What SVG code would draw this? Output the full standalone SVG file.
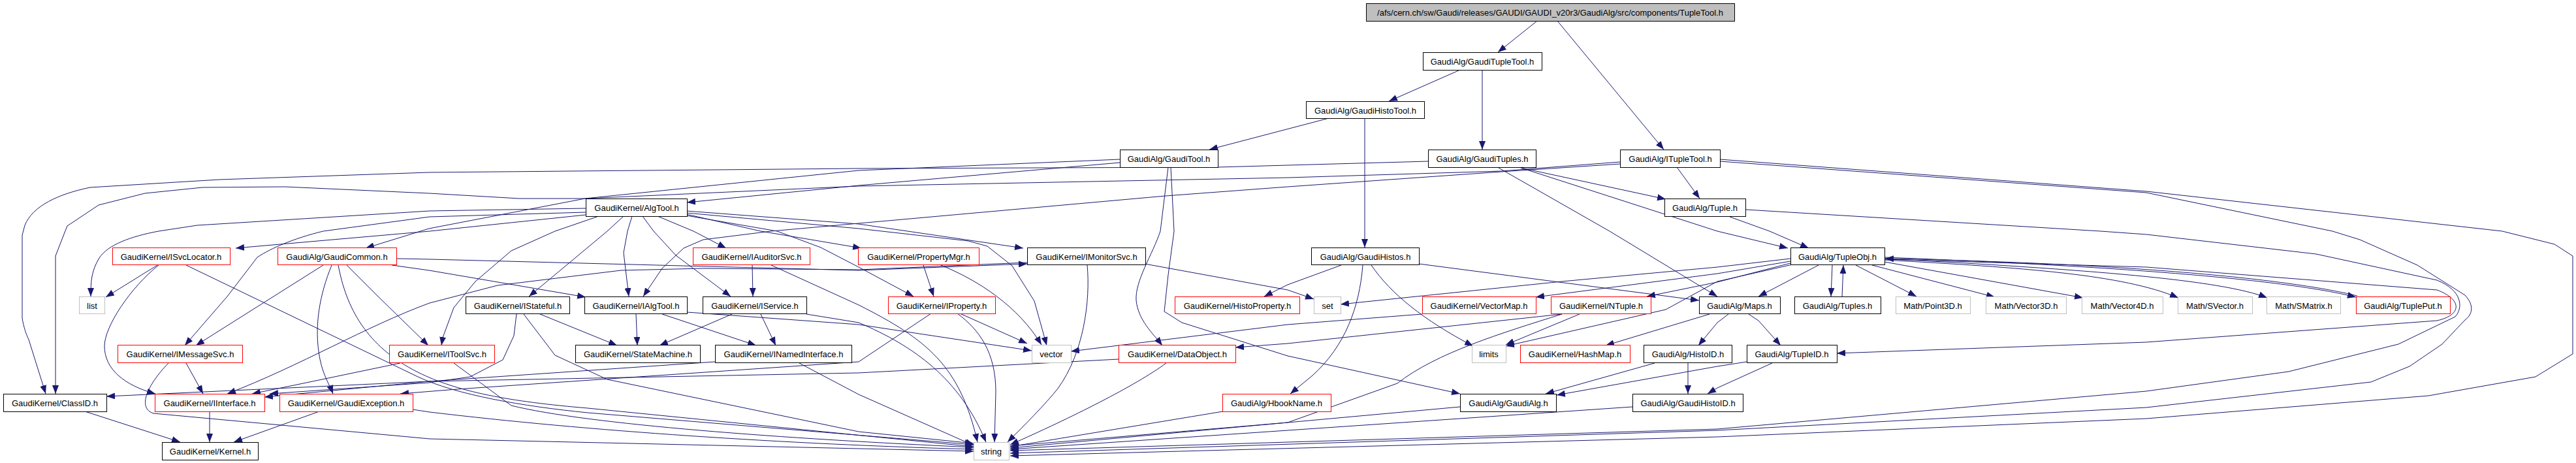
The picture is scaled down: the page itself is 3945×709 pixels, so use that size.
<svg xmlns="http://www.w3.org/2000/svg" width="3945" height="709" viewBox="0 0 3945 709">
<style>
.n rect{fill:#fff;stroke:#000;stroke-width:1}
.r rect{stroke:#f00}
.g rect{stroke:#bfbfbf}
.root rect{fill:#bfbfbf}
text{font-family:"Liberation Sans",Arial,sans-serif;font-size:13px;text-anchor:middle;fill:#000}
.e path{fill:none;stroke:#191970;stroke-width:1;marker-end:url(#a)}
</style>
<defs>
<marker id="a" markerUnits="userSpaceOnUse" markerWidth="14" markerHeight="10" refX="13" refY="5" orient="auto"><path d="M0,0 L13,5 L0,10 z" fill="#191970"/></marker>
</defs>
<rect width="3945" height="709" fill="#fff"/>
<g id="connectors" class="e">
<path d="M2354,32 L2294,80"/>
<path d="M2385,32 L2548,229"/>
<path d="M2236,107 L2127,155"/>
<path d="M2270,107 L2270,229"/>
<path d="M2035,181 L1852,229"/>
<path d="M2090,181 L2090,379"/>
<path d="M1715,244 L1315,261 L896,304 L657,350 L560,380"/>
<path d="M1715,249 L1315,284 L1052,310"/>
<path d="M2187,247 L1865,256 L1315,258 L657,264 L336,275 L138,287 C90,297 50,315 38,345 L34,360 L34,487 C36,500 40,512 44,520 L70,603"/>
<path d="M2481,248 L2299,262 L1973,272 L1315,285 L896,304 L795,304 L657,296 L436,286 L310,287 L222,296 L151,314 L103,346 L99,356 L85,392 L85,603"/>
<path d="M2481,251 L2299,263 L1972,286 L1785,300 L1315,342 L1181,354 L1077,367 L1047,380 L1014,411 L985,454"/>
<path d="M2568,256 L2603,304"/>
<path d="M2329,257 L2551,305"/>
<path d="M2329,257 L2630,354 L2738,380"/>
<path d="M2295,257 L2465,354 L2630,454"/>
<path d="M2649,332 L2710,354 L2770,380"/>
<path d="M1789,256 L1777,354 C1765,390 1738,430 1740,460 C1743,490 1765,510 1780,529"/>
<path d="M1793,256 L1798,354 L1789,421 L1783,477 L1810,494 L1972,545 L2236,603"/>
<path d="M2054,406 L1972,436 L1936,454"/>
<path d="M2100,406 C2130,450 2180,490 2256,530"/>
<path d="M2087,406 C2082,470 2060,530 2010,575 L1976,603"/>
<path d="M2173,404 L2602,460"/>
<path d="M1753,404 L1972,444 L2012,458"/>
<path d="M2742,396 L2630,409 L2392,431 L2053,466"/>
<path d="M2742,400 L2630,419 L2352,455"/>
<path d="M2742,403 L2630,432 L2522,454"/>
<path d="M2745,405 L2630,431 L2551,474 L2306,530"/>
<path d="M2785,406 L2693,454"/>
<path d="M2806,406 L2804,454"/>
<path d="M2821,454 L2823,406"/>
<path d="M2842,406 L2935,454"/>
<path d="M2867,406 L3055,455"/>
<path d="M2886,401 L3190,456"/>
<path d="M2886,398 C3100,410 3250,420 3336,456"/>
<path d="M2886,396 C3200,413 3400,428 3472,456"/>
<path d="M2886,394 C3250,408 3500,428 3608,455"/>
<path d="M3610,453 C3500,426 3250,403 2887,396"/>
<path d="M2886,397 L3287,409 L3732,444 C3770,458 3772,482 3732,491 L3287,524 L2813,541"/>
<path d="M2674,321 L3217,354 L3287,359 L3547,389 L3732,429 C3772,445 3772,472 3760,485 L3673,527 L3505,569 L3287,599 L2630,657 L1547,690"/>
<path d="M2634,247 L3287,295 L3572,354 L3614,367 L3702,406 L3775,452 C3790,468 3786,482 3775,490 L3740,527 L3690,561 L3631,585 L3287,624 L2630,659 L1547,694"/>
<path d="M2634,244 L3287,293 L3832,354 L3912,374 L3940,392 L3940,542 L3883,577 L3719,606 L3287,641 L2630,669 L1547,698"/>
<path d="M2647,481 L2630,494 L2601,529"/>
<path d="M2678,481 L2693,491 L2727,529"/>
<path d="M2618,481 L2459,529"/>
<path d="M2585,556 L2585,603"/>
<path d="M2534,556 L2367,603"/>
<path d="M2675,554 L2630,561 L2384,605"/>
<path d="M2714,556 L2630,594 L2615,603"/>
<path d="M2392,481 L1972,526 L1892,532"/>
<path d="M2419,481 L2306,528"/>
<path d="M2392,481 C2300,510 2200,540 2140,587 L1972,647 L1547,683"/>
<path d="M2178,481 L1972,497 L1640,538"/>
<path d="M2236,623 L1972,647 L1547,686"/>
<path d="M2500,623 L1972,659 L1547,688"/>
<path d="M1713,550 L1315,571 L657,584 L163,607"/>
<path d="M1786,556 C1740,590 1640,640 1547,681"/>
<path d="M1873,630 L1547,684"/>
<path d="M1665,406 C1670,460 1660,540 1620,595 C1600,620 1570,650 1543,677"/>
<path d="M1573,402 L1315,413 L1077,411 L951,414 L762,437 L658,464 C560,500 460,560 348,603"/>
<path d="M607,396 L658,397 L1315,414 L1573,404"/>
<path d="M1414,406 L1430,454"/>
<path d="M1441,406 C1500,430 1560,470 1595,528"/>
<path d="M1181,406 L1315,467 C1420,520 1470,560 1497,677"/>
<path d="M1235,481 L1315,494 C1400,530 1470,580 1510,677"/>
<path d="M1466,480 C1500,505 1525,540 1525,600 L1523,677"/>
<path d="M1470,480 L1573,526"/>
<path d="M1426,480 L1315,554 L700,596 L613,603"/>
<path d="M1095,554 L657,584 L405,608"/>
<path d="M613,556 L450,590 L386,603"/>
<path d="M695,556 L783,621 C900,650 1200,672 1491,685"/>
<path d="M791,481 L787,514 L770,551 L720,577 L657,586 L413,603"/>
<path d="M802,481 L850,544 L930,581 L1315,661 L1491,679"/>
<path d="M827,481 L945,529"/>
<path d="M974,481 L976,529"/>
<path d="M1014,481 L1158,529"/>
<path d="M1121,481 L1010,529"/>
<path d="M1165,481 L1188,529"/>
<path d="M1224,556 L1315,604 L1491,682"/>
<path d="M1152,406 L1153,454"/>
<path d="M489,630 L358,677"/>
<path d="M632,627 L658,631 C900,660 1200,680 1491,688"/>
<path d="M241,406 L162,455"/>
<path d="M243,406 C200,440 160,500 160,530 C160,565 190,590 238,603"/>
<path d="M285,406 L640,577 C700,605 800,622 900,632 L1491,681"/>
<path d="M285,556 L311,603"/>
<path d="M258,556 C225,590 210,625 235,633 L658,672 L1491,691"/>
<path d="M130,630 L276,677"/>
<path d="M321,630 L321,677"/>
<path d="M495,406 L300,529"/>
<path d="M508,406 C490,450 480,500 490,550 C495,575 505,590 510,603"/>
<path d="M518,406 C530,470 560,530 640,570 C700,600 780,615 900,625 L1491,684"/>
<path d="M531,406 L579,454 L656,529"/>
<path d="M600,406 L657,414 L897,455"/>
<path d="M897,319 L658,323 L302,345 L243,354 C200,362 165,375 152,395 C140,415 139,430 139,454"/>
<path d="M897,325 L658,332 L495,354 C450,365 415,380 394,394 L348,454 L283,529"/>
<path d="M897,329 L658,354 L361,380"/>
<path d="M917,331 L850,354 L783,384 L728,431 L695,471 L678,517 L676,529"/>
<path d="M955,331 L930,354 L810,454"/>
<path d="M968,331 L961,354 L955,387 L963,454"/>
<path d="M984,331 L1001,354 L1035,391 L1119,454"/>
<path d="M1007,331 L1062,354 L1112,380"/>
<path d="M1051,328 L1165,354 L1319,380"/>
<path d="M1051,330 L1190,354 L1257,379 L1315,409 L1399,454"/>
<path d="M1051,323 L1315,343 L1567,380"/>
<path d="M1051,326 L1315,350 L1483,369 L1512,377 L1550,407 L1584,461 L1603,529"/>
<path d="M1052,478 L1315,497 L1580,537"/>
</g>
<g id="n0" class="n root"><rect x="2092.5" y="5.5" width="564" height="27"/><text x="2374" y="24">/afs/cern.ch/sw/Gaudi/releases/GAUDI/GAUDI_v20r3/GaudiAlg/src/components/TupleTool.h</text></g>
<g id="n1" class="n"><rect x="2179.5" y="80.5" width="182" height="27"/><text x="2270" y="99">GaudiAlg/GaudiTupleTool.h</text></g>
<g id="n2" class="n"><rect x="2000.5" y="155.5" width="181" height="26"/><text x="2091" y="174">GaudiAlg/GaudiHistoTool.h</text></g>
<g id="n3" class="n"><rect x="1715.5" y="229.5" width="150" height="27"/><text x="1790" y="248">GaudiAlg/GaudiTool.h</text></g>
<g id="n4" class="n"><rect x="2187.5" y="229.5" width="165" height="27"/><text x="2270" y="248">GaudiAlg/GaudiTuples.h</text></g>
<g id="n5" class="n"><rect x="2481.5" y="229.5" width="153" height="27"/><text x="2558" y="248">GaudiAlg/ITupleTool.h</text></g>
<g id="n6" class="n"><rect x="2549.5" y="304.5" width="124" height="27"/><text x="2611" y="323">GaudiAlg/Tuple.h</text></g>
<g id="n7" class="n"><rect x="897.5" y="304.5" width="155" height="27"/><text x="975" y="323">GaudiKernel/AlgTool.h</text></g>
<g id="n8" class="n r"><rect x="172.5" y="379.5" width="180" height="26"/><text x="262" y="398">GaudiKernel/ISvcLocator.h</text></g>
<g id="n9" class="n r"><rect x="425.5" y="379.5" width="182" height="26"/><text x="516" y="398">GaudiAlg/GaudiCommon.h</text></g>
<g id="n10" class="n r"><rect x="1061.5" y="379.5" width="179" height="26"/><text x="1151" y="398">GaudiKernel/IAuditorSvc.h</text></g>
<g id="n11" class="n r"><rect x="1314.5" y="379.5" width="185" height="26"/><text x="1407" y="398">GaudiKernel/PropertyMgr.h</text></g>
<g id="n12" class="n"><rect x="1573.5" y="379.5" width="181" height="26"/><text x="1664" y="398">GaudiKernel/IMonitorSvc.h</text></g>
<g id="n13" class="n"><rect x="2008.5" y="379.5" width="165" height="26"/><text x="2091" y="398">GaudiAlg/GaudiHistos.h</text></g>
<g id="n14" class="n"><rect x="2742.5" y="379.5" width="144" height="26"/><text x="2814" y="398">GaudiAlg/TupleObj.h</text></g>
<g id="n15" class="n g"><rect x="121.5" y="454.5" width="39" height="26"/><text x="141" y="473">list</text></g>
<g id="n16" class="n"><rect x="713.5" y="454.5" width="159" height="26"/><text x="793" y="473">GaudiKernel/IStateful.h</text></g>
<g id="n17" class="n"><rect x="895.5" y="454.5" width="157" height="26"/><text x="974" y="473">GaudiKernel/IAlgTool.h</text></g>
<g id="n18" class="n"><rect x="1076.5" y="454.5" width="159" height="26"/><text x="1156" y="473">GaudiKernel/IService.h</text></g>
<g id="n19" class="n r"><rect x="1360.5" y="454.5" width="164" height="26"/><text x="1442" y="473">GaudiKernel/IProperty.h</text></g>
<g id="n20" class="n r"><rect x="1799.5" y="454.5" width="191" height="26"/><text x="1895" y="473">GaudiKernel/HistoProperty.h</text></g>
<g id="n21" class="n g"><rect x="2012.5" y="454.5" width="41" height="26"/><text x="2033" y="473">set</text></g>
<g id="n22" class="n r"><rect x="2178.5" y="454.5" width="174" height="26"/><text x="2265" y="473">GaudiKernel/VectorMap.h</text></g>
<g id="n23" class="n r"><rect x="2375.5" y="454.5" width="153" height="26"/><text x="2452" y="473">GaudiKernel/NTuple.h</text></g>
<g id="n24" class="n"><rect x="2602.5" y="454.5" width="124" height="26"/><text x="2664" y="473">GaudiAlg/Maps.h</text></g>
<g id="n25" class="n"><rect x="2748.5" y="454.5" width="132" height="26"/><text x="2814" y="473">GaudiAlg/Tuples.h</text></g>
<g id="n26" class="n g"><rect x="2903.5" y="454.5" width="114" height="26"/><text x="2960" y="473">Math/Point3D.h</text></g>
<g id="n27" class="n g"><rect x="3041.5" y="454.5" width="123" height="26"/><text x="3103" y="473">Math/Vector3D.h</text></g>
<g id="n28" class="n g"><rect x="3188.5" y="454.5" width="124" height="26"/><text x="3250" y="473">Math/Vector4D.h</text></g>
<g id="n29" class="n g"><rect x="3335.5" y="454.5" width="114" height="26"/><text x="3392" y="473">Math/SVector.h</text></g>
<g id="n30" class="n g"><rect x="3471.5" y="454.5" width="113" height="26"/><text x="3528" y="473">Math/SMatrix.h</text></g>
<g id="n31" class="n r"><rect x="3608.5" y="454.5" width="144" height="26"/><text x="3680" y="473">GaudiAlg/TuplePut.h</text></g>
<g id="n32" class="n r"><rect x="180.5" y="528.5" width="191" height="27"/><text x="276" y="547">GaudiKernel/IMessageSvc.h</text></g>
<g id="n33" class="n r"><rect x="596.5" y="528.5" width="161" height="27"/><text x="677" y="547">GaudiKernel/IToolSvc.h</text></g>
<g id="n34" class="n"><rect x="881.5" y="528.5" width="191" height="27"/><text x="977" y="547">GaudiKernel/StateMachine.h</text></g>
<g id="n35" class="n"><rect x="1095.5" y="528.5" width="209" height="27"/><text x="1200" y="547">GaudiKernel/INamedInterface.h</text></g>
<g id="n36" class="n g"><rect x="1580.5" y="528.5" width="60" height="27"/><text x="1610" y="547">vector</text></g>
<g id="n37" class="n r"><rect x="1713.5" y="528.5" width="179" height="27"/><text x="1803" y="547">GaudiKernel/DataObject.h</text></g>
<g id="n38" class="n g"><rect x="2254.5" y="528.5" width="52" height="27"/><text x="2280" y="547">limits</text></g>
<g id="n39" class="n r"><rect x="2328.5" y="528.5" width="168" height="27"/><text x="2412" y="547">GaudiKernel/HashMap.h</text></g>
<g id="n40" class="n"><rect x="2517.5" y="528.5" width="135" height="27"/><text x="2585" y="547">GaudiAlg/HistoID.h</text></g>
<g id="n41" class="n"><rect x="2675.5" y="528.5" width="138" height="27"/><text x="2744" y="547">GaudiAlg/TupleID.h</text></g>
<g id="n42" class="n"><rect x="5.5" y="603.5" width="158" height="27"/><text x="84" y="622">GaudiKernel/ClassID.h</text></g>
<g id="n43" class="n r"><rect x="237.5" y="603.5" width="168" height="27"/><text x="321" y="622">GaudiKernel/IInterface.h</text></g>
<g id="n44" class="n r"><rect x="428.5" y="603.5" width="204" height="27"/><text x="530" y="622">GaudiKernel/GaudiException.h</text></g>
<g id="n45" class="n r"><rect x="1872.5" y="603.5" width="166" height="27"/><text x="1955" y="622">GaudiAlg/HbookName.h</text></g>
<g id="n46" class="n"><rect x="2236.5" y="603.5" width="147" height="27"/><text x="2310" y="622">GaudiAlg/GaudiAlg.h</text></g>
<g id="n47" class="n"><rect x="2500.5" y="603.5" width="169" height="27"/><text x="2585" y="622">GaudiAlg/GaudiHistoID.h</text></g>
<g id="n48" class="n"><rect x="248.5" y="677.5" width="147" height="27"/><text x="322" y="696">GaudiKernel/Kernel.h</text></g>
<g id="n49" class="n g"><rect x="1491.5" y="677.5" width="54" height="27"/><text x="1518" y="696">string</text></g>
</svg>
